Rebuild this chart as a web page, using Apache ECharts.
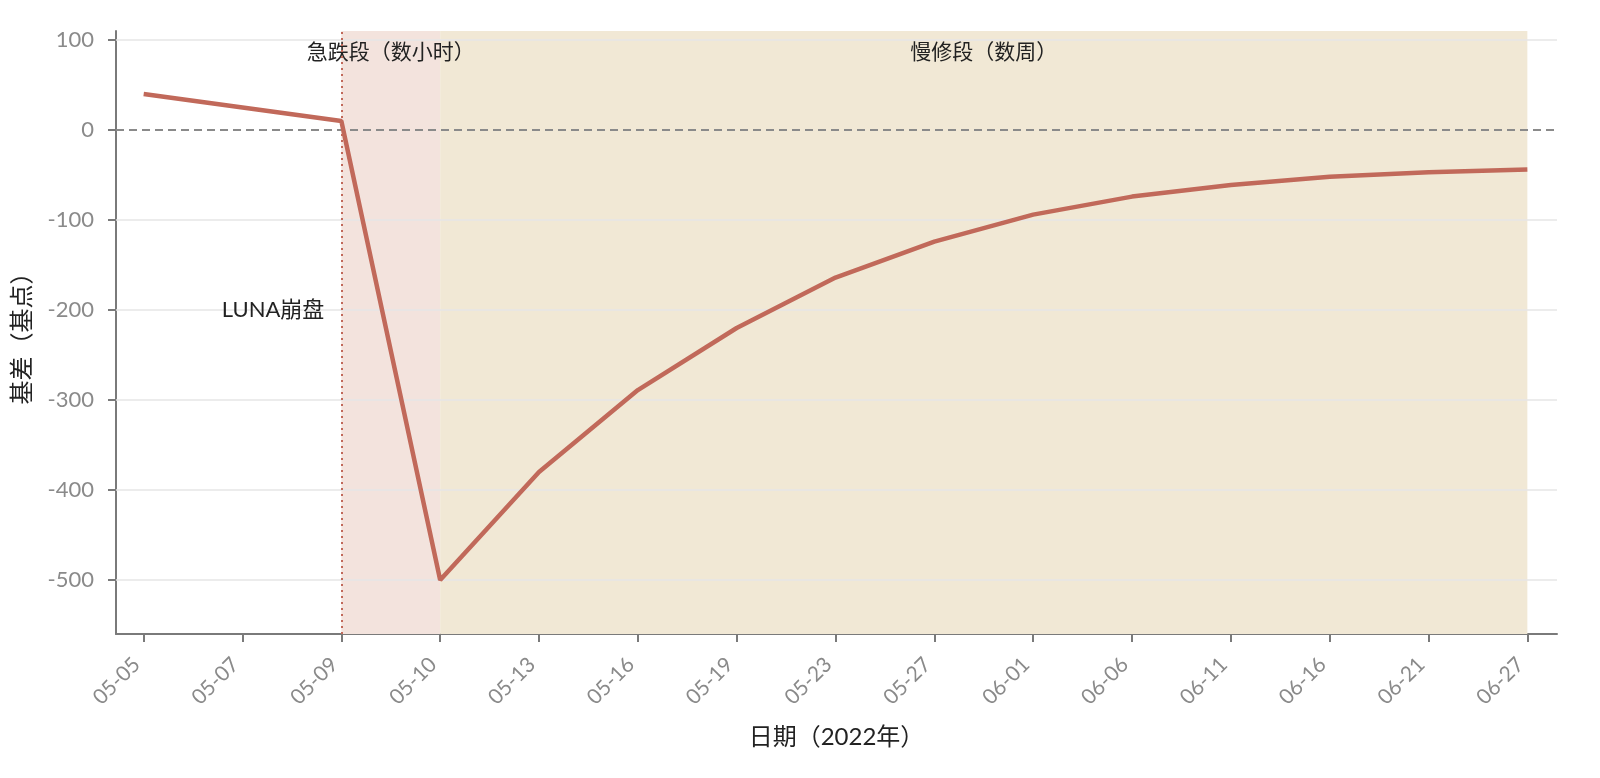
<!DOCTYPE html>
<html>
<head>
<meta charset="utf-8">
<script src="https://cdn.jsdelivr.net/npm/echarts@6/dist/echarts.min.js"></script>
<style>
    html, body { margin: 0; padding: 0; background: #fff; }
    #grafico { width: 1600px; height: 778px; }
</style>
</head>
<body>
<div id="grafico"></div>
<script>
const datas = ['05-05', '05-07', '05-09', '05-10', '05-13', '05-16', '05-19', '05-23', '05-27', '06-01', '06-06', '06-11', '06-16', '06-21', '06-27']
const basis = [40, 25, 10, -500, -380, -289, -220, -164, -124, -94, -74, -61, -52, -47, -44]
const yTicks = [-500, -400, -300, -200, -100, 0, 100]
const fases = [
    { nome: '急跌段（数小时）', de: '05-09', ate: '05-10', cor: '#f3e3dd' },
    { nome: '慢修段（数周）', de: '05-10', ate: '06-27', cor: '#f1e8d5' }
]
const evento = { nome: 'LUNA崩盘', data: '05-09', valor: -200 }

const fonte = "Lato, 'Noto Sans CJK SC', sans-serif"
const corLinha = '#c1695a'
const corEixo = '#7a7a7a'

const idx = d => datas.indexOf(d)

const dom = document.getElementById('grafico')
const myChart = echarts.init(dom, null, { renderer: 'canvas' })

const option = {
    animation: false,
    grid: { left: 116, right: 43, top: 31, bottom: 144 },
    xAxis: {
        type: 'value',
        min: -0.28,
        max: 14.3,
        name: '日期（2022年）',
        nameLocation: 'middle',
        nameGap: 91,
        nameTextStyle: { color: '#222', fontSize: 24, fontFamily: fonte },
        axisLine: { show: true, onZero: false, lineStyle: { color: corEixo, width: 2 } },
        axisTick: {
            show: true,
            length: 8,
            customValues: datas.map((d, i) => i),
            lineStyle: { color: corEixo, width: 2 }
        },
        axisLabel: {
            rotate: 45,
            margin: 20,
            padding: [0, 10, 0, 0],
            color: '#8a8a8a',
            fontSize: 21,
            fontFamily: fonte,
            customValues: datas.map((d, i) => i),
            formatter: v => datas[Math.round(v)] || ''
        },
        splitLine: { show: false }
    },
    yAxis: {
        type: 'value',
        min: -560,
        max: 110,
        name: '基差（基点）',
        nameLocation: 'middle',
        nameGap: 82,
        nameTextStyle: { color: '#222', fontSize: 24, fontFamily: fonte },
        axisLine: { show: true, onZero: false, lineStyle: { color: corEixo, width: 2 } },
        axisTick: {
            show: true,
            length: 8,
            customValues: yTicks,
            lineStyle: { color: corEixo, width: 2 }
        },
        axisLabel: {
            margin: 22,
            color: '#8a8a8a',
            fontSize: 22,
            fontFamily: fonte,
            customValues: yTicks
        },
        splitLine: { show: false }
    },
    series: [
        {
            // linhas de grade horizontais
            type: 'line',
            data: [],
            silent: true,
            markLine: {
                silent: true,
                symbol: 'none',
                label: { show: false },
                lineStyle: { color: '#e6e6e6', width: 1.5, type: 'solid' },
                data: yTicks.filter(t => t !== 0).map(t => ({ yAxis: t }))
            }
        },
        {
            type: 'line',
            data: datas.map((d, i) => [i, basis[i]]),
            showSymbol: false,
            lineStyle: { color: corLinha, width: 4.5 },
            itemStyle: { color: corLinha },
            z: 5,
            markArea: {
                silent: true,
                data: fases.map(f => [
                    {
                        xAxis: idx(f.de),
                        itemStyle: { color: f.cor },
                        label: {
                            show: true,
                            position: 'insideTop',
                            distance: 11,
                            formatter: f.nome,
                            color: '#222',
                            fontSize: 21,
                            fontFamily: fonte
                        }
                    },
                    { xAxis: idx(f.ate) }
                ])
            },
            markLine: {
                silent: true,
                symbol: 'none',
                label: { show: false },
                data: [
                    { yAxis: 0, lineStyle: { color: '#8a8a8a', width: 2, type: [8, 5] } },
                    { xAxis: idx(evento.data), lineStyle: { color: corLinha, width: 2, type: [2, 4] } }
                ]
            },
            markPoint: {
                silent: true,
                symbol: 'circle',
                symbolSize: 0,
                data: [{
                    coord: [idx(evento.data), evento.valor],
                    label: {
                        show: true,
                        position: 'left',
                        distance: 17,
                        formatter: evento.nome,
                        color: '#222',
                        fontSize: 22,
                        fontFamily: fonte
                    }
                }]
            }
        }
    ]
}

myChart.setOption(option)
</script>
</body>
</html>
